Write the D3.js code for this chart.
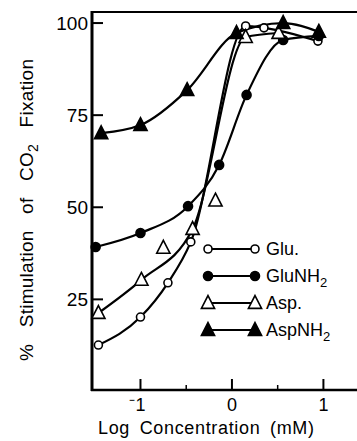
<!DOCTYPE html>
<html>
<head>
<meta charset="utf-8">
<script src="https://cdn.jsdelivr.net/npm/d3@7"></script>
<style>
  body { margin: 0; background: #fff; }
  text { font-family: 'Liberation Sans', Arial, sans-serif; fill: #000; }
</style>
</head>
<body>
<div id="chart"></div>
<script>
// values (x = log mM, y = % stimulation)
const gluX = [-1.46, -1.0, -0.70, -0.45, 0.15, 0.35, 0.94];
const gluY = [12.6, 20.2, 29.5, 40.6, 99.2, 98.7, 95.1];

const gluNH2X = [-1.49, -1.0, -0.48, -0.14, 0.16, 0.56, 0.95];
const gluNH2Y = [39.2, 43.0, 50.3, 61.5, 80.5, 95.4, 96.5];

const aspX = [-1.46, -0.99, -0.75, -0.43, -0.18, 0.15, 0.51];
const aspY = [21.3, 30.3, 39.0, 44.1, 51.8, 96.2, 97.3];
const aspOnCurve = [true, true, false, true, false, true, true];

const aspNH2X = [-1.43, -1.0, -0.49, 0.05, 0.56, 0.95];
const aspNH2Y = [70.1, 72.3, 81.8, 97.3, 100.0, 97.6];

const yTicks = [25, 50, 75, 100];
const xTicks = [-1, 0, 1];
const xMinorTicks = [-0.5, 0.5];
const xTickLabels = ['\u207B1', '0', '1'];

const seriesNames = ['Glu.', 'GluNH', 'Asp.', 'AspNH'];
const seriesSubs = ['', '2', '', '2'];

const width = 357, height = 441;
const svg = d3.select('#chart').append('svg')
  .attr('width', width)
  .attr('height', height);

const x = d3.scaleLinear().domain([-1.53, 1.40]).range([92, 360]);
const y = d3.scaleLinear().domain([0.4, 103]).range([390, 12]);

// frame: left, bottom, top
svg.append('line').attr('x1', 92).attr('x2', 92).attr('y1', 11).attr('y2', 391)
  .attr('stroke', '#000').attr('stroke-width', 3);
svg.append('line').attr('x1', 91).attr('x2', width).attr('y1', 390).attr('y2', 390)
  .attr('stroke', '#000').attr('stroke-width', 2.5);
svg.append('line').attr('x1', 91).attr('x2', width).attr('y1', 12).attr('y2', 12)
  .attr('stroke', '#000').attr('stroke-width', 2);

// y ticks (inward)
svg.selectAll('.ytick').data(yTicks).enter().append('line')
  .attr('class', 'ytick')
  .attr('x1', 92).attr('x2', 103)
  .attr('y1', d => y(d)).attr('y2', d => y(d))
  .attr('stroke', '#000').attr('stroke-width', 2);
svg.selectAll('.ylab').data(yTicks).enter().append('text')
  .attr('class', 'ylab')
  .attr('x', 88).attr('y', d => y(d) + 7)
  .attr('text-anchor', 'end')
  .style('font-size', '19px')
  .text(d => d);

// x ticks (inward)
svg.selectAll('.xtick').data(xTicks).enter().append('line')
  .attr('class', 'xtick')
  .attr('x1', d => x(d)).attr('x2', d => x(d))
  .attr('y1', 390).attr('y2', 379)
  .attr('stroke', '#000').attr('stroke-width', 2);
svg.selectAll('.xminor').data(xMinorTicks).enter().append('line')
  .attr('class', 'xminor')
  .attr('x1', d => x(d)).attr('x2', d => x(d))
  .attr('y1', 390).attr('y2', 385)
  .attr('stroke', '#000').attr('stroke-width', 1.5);
svg.selectAll('.xlab').data(xTicks).enter().append('text')
  .attr('class', 'xlab')
  .attr('x', (d, i) => x(d) - (i === 0 ? 3 : 0)).attr('y', 411)
  .attr('text-anchor', 'middle')
  .style('font-size', '18px')
  .text((d, i) => xTickLabels[i]);

// axis titles
svg.append('text')
  .attr('x', 206).attr('y', 434)
  .attr('text-anchor', 'middle')
  .attr('textLength', 216)
  .style('font-size', '18px')
  .style('word-spacing', '4px')
  .text('Log Concentration (mM)');

const yt = svg.append('text')
  .attr('transform', 'translate(33,210) rotate(-90)')
  .attr('text-anchor', 'middle')
  .attr('textLength', 302)
  .style('font-size', '19px')
  .style('word-spacing', '11px');
yt.append('tspan').text('% Stimulation of CO');
yt.append('tspan').attr('dy', 5).style('font-size', '14px').text('2');
yt.append('tspan').attr('dy', -5).text(' Fixation');

// curves
const line = d3.line()
  .x(d => x(d[0]))
  .y(d => y(d[1]))
  .curve(d3.curveMonotoneX);

const zip = (xs, ys) => xs.map((v, i) => [v, ys[i]]);
const series = [
  { pts: zip(gluX, gluY), shape: 'circle', fill: '#fff' },
  { pts: zip(gluNH2X, gluNH2Y), shape: 'circle', fill: '#000' },
  { pts: zip(aspX, aspY), curve: zip(aspX, aspY).filter((d, i) => aspOnCurve[i]), shape: 'tri', fill: '#fff' },
  { pts: zip(aspNH2X, aspNH2Y), shape: 'tri', fill: '#000' }
];

const triPath = (cx, cy, s) => `M${cx},${cy - s * 0.62}L${cx + s * 0.55},${cy + s * 0.45}L${cx - s * 0.55},${cy + s * 0.45}Z`;

function marker(g, shape, fill, cx, cy) {
  if (shape === 'circle') {
    g.append('circle').attr('cx', cx).attr('cy', cy).attr('r', fill === '#000' ? 4.5 : 4)
      .attr('fill', fill).attr('stroke', '#000').attr('stroke-width', 1.6);
  } else {
    g.append('path').attr('d', triPath(cx, cy, 12))
      .attr('fill', fill).attr('stroke', '#000').attr('stroke-width', 1.6)
      .attr('stroke-linejoin', 'miter');
  }
}

series.forEach(s => {
  svg.append('path')
    .attr('d', line(s.curve || s.pts))
    .attr('fill', 'none')
    .attr('stroke', '#000')
    .attr('stroke-width', 2.2);
});
series.forEach(s => {
  const g = svg.append('g');
  s.pts.forEach(p => marker(g, s.shape, s.fill, x(p[0]), y(p[1])));
});

// legend
const legend = svg.append('g');
series.forEach((s, i) => {
  const ly = 249 + i * 27;
  legend.append('line').attr('x1', 208).attr('x2', 255).attr('y1', ly).attr('y2', ly)
    .attr('stroke', '#000').attr('stroke-width', 2);
  marker(legend, s.shape, s.fill, 208, ly);
  marker(legend, s.shape, s.fill, 255, ly);
  const t = legend.append('text').attr('x', 266).attr('y', ly + 6).style('font-size', '18px');
  t.append('tspan').text(seriesNames[i]);
  if (seriesSubs[i]) t.append('tspan').attr('dy', 5).style('font-size', '13px').text(seriesSubs[i]);
});
</script>
</body>
</html>
